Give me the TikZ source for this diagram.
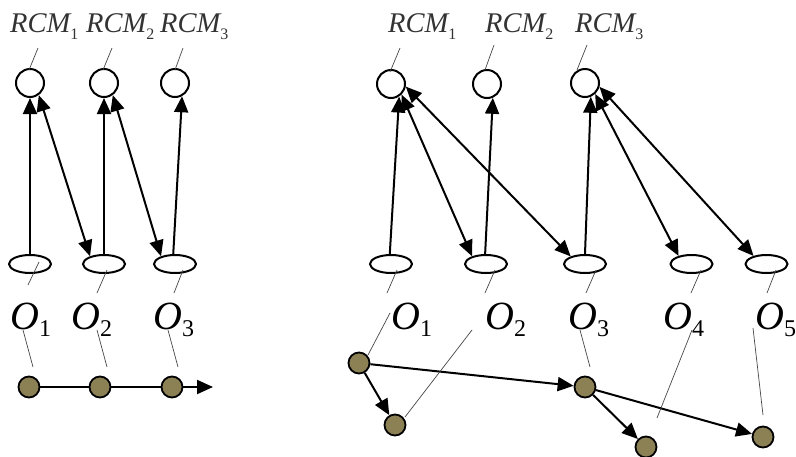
\documentclass[tikz,border=0pt]{standalone}
\usepackage{fontspec}
\setmainfont{Liberation Serif}
\usetikzlibrary{arrows.meta,shapes.geometric}

\definecolor{statecol}{RGB}{140,129,84}
\definecolor{leadcol}{RGB}{70,70,70}

% label with an italic main part and an upright, lowered index
\newcommand\sublab[5]{{\fontsize{#3}{#3}\selectfont\itshape #1}{\fontsize{#4}{#4}\selectfont\raisebox{-#5pt}{#2}}}

\tikzset{
  rcm/.style={circle, draw, line width=2pt, minimum size=28pt, inner sep=0pt},
  obj/.style={ellipse, draw, line width=2pt, minimum width=42pt, minimum height=18pt, inner sep=0pt},
  stnode/.style={circle, draw, line width=1.8pt, fill=statecol, minimum size=21pt, inner sep=0pt},
  arr/.style={line width=2pt, -{Triangle[length=16pt,width=14pt]}},
  darr/.style={line width=2pt, {Triangle[length=16pt,width=14pt]}-{Triangle[length=16pt,width=14pt]}},
  plain/.style={line width=2pt},
  leader/.style={line width=0.7pt, draw=leadcol},
  rcmlab/.style={anchor=base west, inner sep=0pt, text=black!80},
  olab/.style={anchor=base west, inner sep=0pt},
}

\begin{document}
\begin{tikzpicture}[x=1pt,y=-1pt]
\useasboundingbox (0,0) rectangle (796,456);

% ---------------- left part ----------------
\node[rcm] (lc1) at (30,83) {};
\node[rcm] (lc2) at (104,83) {};
\node[rcm] (lc3) at (175,83) {};
\node[obj] (le1) at (30,264) {};
\node[obj] (le2) at (104,264) {};
\node[obj] (le3) at (175,264) {};
\node[stnode] (lb1) at (29,387) {};
\node[stnode] (lb2) at (100,387) {};
\node[stnode] (lb3) at (172,387) {};
\coordinate (lend) at (213,387);

\node[rcmlab] (lr1) at (10,32) {\sublab{RCM}{1}{28.5}{16}{7}};
\node[rcmlab] (lr2) at (86,32) {\sublab{RCM}{2}{28.5}{16}{7}};
\node[rcmlab] (lr3) at (160,32) {\sublab{RCM}{3}{28.5}{16}{7}};
\node[olab] (lo1) at (10,329) {\sublab{O}{1}{40}{24}{7}};
\node[olab] (lo2) at (71,329) {\sublab{O}{2}{40}{24}{7}};
\node[olab] (lo3) at (153,329) {\sublab{O}{3}{40}{24}{7}};

\draw[arr] (le1.north) -- (lc1.south);
\draw[darr] (lc1.-54) -- (le2.151);
\draw[arr] (le2.north) -- (lc2.south);
\draw[darr] (lc2.-54) -- (le3.151);
\draw[arr] (le3.100) -- (lc3.-62);

\draw[plain] (lb1) -- (lb2) -- (lb3);
\draw[arr] (lb3) -- (lend);

% leader lines, left
\coordinate (la1) at (38,48);  \coordinate (lz1) at (29,70);
\coordinate (la2) at (112,48); \coordinate (lz2) at (103,70);
\coordinate (la3) at (183,48); \coordinate (lz3) at (175,70);
\coordinate (lm1) at (39,262); \coordinate (ln1) at (28,285);
\coordinate (lm2) at (107,270); \coordinate (ln2) at (97,293);
\coordinate (lm3) at (183,270); \coordinate (ln3) at (174,293);
\coordinate (lp1) at (23,330); \coordinate (lq1) at (33,367);
\coordinate (lp2) at (97,330); \coordinate (lq2) at (107,367);
\coordinate (lp3) at (168,330); \coordinate (lq3) at (178,367);
\foreach \i in {1,2,3}{
  \draw[leader] (la\i) -- (lz\i);
  \draw[leader] (lm\i) -- (ln\i);
  \draw[leader] (lp\i) -- (lq\i);
}

% ---------------- right part ----------------
\node[rcm] (rc1) at (391,84) {};
\node[rcm] (rc2) at (487,84) {};
\node[rcm] (rc3) at (585,83) {};
\node[obj] (re1) at (391,264) {};
\node[obj] (re2) at (486,264) {};
\node[obj] (re3) at (585,264) {};
\node[obj] (re4) at (691.5,264) {};
\node[obj] (re5) at (766.5,264) {};
\node[stnode] (rb1) at (359,363) {};
\node[stnode] (rb2) at (395,425) {};
\node[stnode] (rb3) at (585,387) {};
\node[stnode] (rb4) at (646,447) {};
\node[stnode] (rb5) at (763,437) {};

\node[rcmlab] (rr1) at (388,32) {\sublab{RCM}{1}{28.5}{16}{7}};
\node[rcmlab] (rr2) at (485,32) {\sublab{RCM}{2}{28.5}{16}{7}};
\node[rcmlab] (rr3) at (575,32) {\sublab{RCM}{3}{28.5}{16}{7}};
\node[olab] (ro1) at (391,329) {\sublab{O}{1}{40}{24}{7}};
\node[olab] (ro2) at (485,329) {\sublab{O}{2}{40}{24}{7}};
\node[olab] (ro3) at (568,329) {\sublab{O}{3}{40}{24}{7}};
\node[olab] (ro4) at (663,329) {\sublab{O}{4}{40}{24}{7}};
\node[olab] (ro5) at (755,329) {\sublab{O}{5}{40}{24}{7}};

\draw[arr] (re1.97) -- (rc1.-57);
\draw[darr] (rc1.-45) -- (re2.151);
\draw[darr] (rc1.-10) -- (re3.152);
\draw[arr] (re2.95) -- (rc2.-67);
\draw[arr] (re3.north) -- (rc3.-67);
\draw[darr] (rc3.-47) -- (re4.148);
\draw[darr] (rc3.-15) -- (re5.148);

\draw[arr] (rb1) -- (rb2);
\draw[arr] (rb1) -- (rb3);
\draw[arr] (rb3) -- (rb4);
\draw[arr] (rb3) -- (rb5);

% leader lines, right
\coordinate (ra1) at (400,48); \coordinate (rz1) at (390,72);
\coordinate (ra2) at (494,45); \coordinate (rz2) at (485,70);
\coordinate (ra3) at (587,45); \coordinate (rz3) at (577,70);
\foreach \i in {1,2,3}{ \draw[leader] (ra\i) -- (rz\i); }
\coordinate (rm1) at (397,270); \coordinate (rn1) at (387,293);
\coordinate (rm2) at (495,270); \coordinate (rn2) at (485,293);
\coordinate (rm3) at (596,270); \coordinate (rn3) at (586,293);
\coordinate (rm4) at (701,270); \coordinate (rn4) at (691,293);
\coordinate (rm5) at (776,270); \coordinate (rn5) at (767,293);
\coordinate (rp1) at (390,313); \coordinate (rq1) at (368,355);
\coordinate (rp2) at (472,330); \coordinate (rq2) at (405,417);
\coordinate (rp3) at (580,330); \coordinate (rq3) at (590,367);
\coordinate (rp4) at (692,330); \coordinate (rq4) at (657,418);
\coordinate (rp5) at (753,328); \coordinate (rq5) at (763,415);
\foreach \i in {1,...,5}{
  \draw[leader] (rm\i) -- (rn\i);
  \draw[leader] (rp\i) -- (rq\i);
}
\end{tikzpicture}
\end{document}
